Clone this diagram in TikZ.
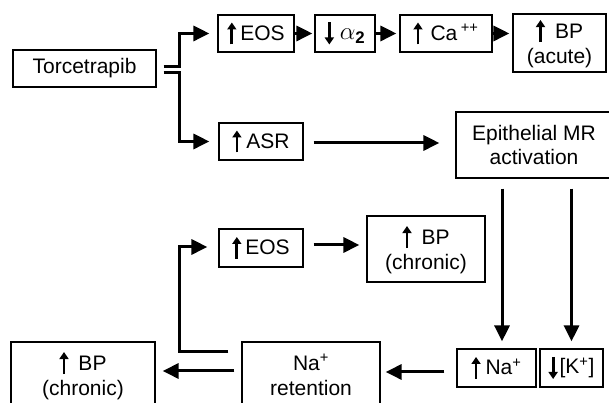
\documentclass[tikz,border=0pt]{standalone}
\usepackage{fontspec}
\setmainfont{Liberation Sans}
\usetikzlibrary{arrows.meta}

% thick little arrows used inside the labels
\newcommand{\up}{\tikz[baseline=0pt]\draw[line width=2.8pt,-{Triangle[length=7pt,width=9pt]}] (0pt,-4pt) -- (0pt,18pt);}
\newcommand{\dn}{\tikz[baseline=0pt]\draw[line width=2.8pt,-{Triangle[length=7pt,width=9pt]}] (0pt,17pt) -- (0pt,-5pt);}

\begin{document}
\begin{tikzpicture}
        [
            x                 = 1pt,
            y                 = 1pt,
            boxed/.style      = {shape=rectangle, draw, line width=1.2pt, align=center,
                                 inner sep=0pt, minimum height=37pt},
            tall/.style       = {minimum height=66pt},
            flow/.style       = {draw, line width=3pt, -{Triangle[length=16pt,width=15pt]}},
            every node/.style = {font=\fontsize{21}{25}\selectfont},
            ]
            \useasboundingbox (0,0) rectangle (609,403);
            \clip (0,0) rectangle (609,403);

            % top row
            \node [boxed, minimum width=143pt] (torc)    at (84.5,334.5) {Torcetrapib};
            \node [boxed, minimum width=76pt]  (eosa)    at (256,369.5)  {\up\hspace{4pt}EOS};
            \node [boxed, minimum width=60pt]  (alpha)   at (345,369.5)  {\dn\hspace{6pt}{\fontsize{24}{25}\selectfont$\alpha_{\mathbf{2}}$}};
            \node [boxed, minimum width=92pt]  (ca)      at (446,369.5)  {\up\hspace{8pt}Ca\,\textsuperscript{++}};
            \node [boxed, tall, minimum width=93pt, minimum height=58pt] (bpacute) at (559.5,360) {\up\hspace{10pt}BP\\(acute)};

            % middle
            \node [boxed, minimum width=84pt]        (asr)    at (261,261.5) {\up\hspace{5pt}ASR};
            \node [boxed, tall, minimum width=156pt] (epi)    at (534,258)   {Epithelial MR\\activation};
            \node [boxed, minimum width=84pt, minimum height=38pt] (eosb) at (261,155) {\up\hspace{4pt}EOS};
            \node [boxed, tall, minimum width=118pt] (bpchrb) at (426,154)   {\up\hspace{10pt}BP\\(chronic)};

            % bottom row
            \node [boxed, minimum width=79pt, minimum height=38pt] (na) at (496.5,35) {\up\hspace{5pt}Na\textsuperscript{+}};
            \node [boxed, minimum width=63pt, minimum height=38pt] (k)  at (571.5,35) {\dn\hspace{2pt}[K\textsuperscript{+}]};
            \node [boxed, tall, minimum width=138pt] (naret)  at (311,28) {Na\textsuperscript{+}\\retention};
            \node [boxed, tall, minimum width=144pt] (bpchra) at (83,28)  {\up\hspace{10pt}BP\\(chronic)};

            % fork out of torcetrapib
            \draw [flow] ([xshift=7pt,yshift=2pt]torc.east) -| ([xshift=-38pt]eosa.west) -- ([xshift=-8pt]eosa.west);
            \draw [flow] ([xshift=7pt,yshift=-4pt]torc.east) -| ([xshift=-39pt]asr.west) -- ([xshift=-9pt]asr.west);

            % acute chain
            \draw [flow] (eosa.east) -- ([xshift=-2pt]alpha.west);
            \draw [flow] (alpha.east) -- ([xshift=-3pt]ca.west);
            \draw [flow] (ca.east) -- ([xshift=-3pt]ca.east -| bpacute.west);

            % chronic chain
            \draw [flow] ([xshift=10pt,yshift=-1.5pt]asr.east) -- ([xshift=-16pt,yshift=-1.5pt]asr.east -| epi.west);
            \draw [flow] ([xshift=5.5pt,yshift=-10pt]na.north |- epi.south) -- ([xshift=5.5pt,yshift=7pt]na.north);
            \draw [flow] ([yshift=-10pt]k.north |- epi.south) -- ([yshift=7pt]k.north);
            \draw [flow] ([xshift=-12pt,yshift=-4pt]na.west) -- ([xshift=5pt,yshift=-4pt]na.west -| naret.east);
            \draw [flow] ([xshift=-7pt,yshift=4pt]naret.west) -- ([xshift=7pt,yshift=4pt]naret.west -| bpchra.east);
            \draw [flow] ([xshift=-13pt,yshift=-10pt]naret.north west) -| ([xshift=-39pt,yshift=1pt]eosb.west) -- ([xshift=-11pt,yshift=1pt]eosb.west);
            \draw [flow] ([xshift=10pt,yshift=3pt]eosb.east) -- ([xshift=-7pt,yshift=3pt]eosb.east -| bpchrb.west);
        \end{tikzpicture}
\end{document}
